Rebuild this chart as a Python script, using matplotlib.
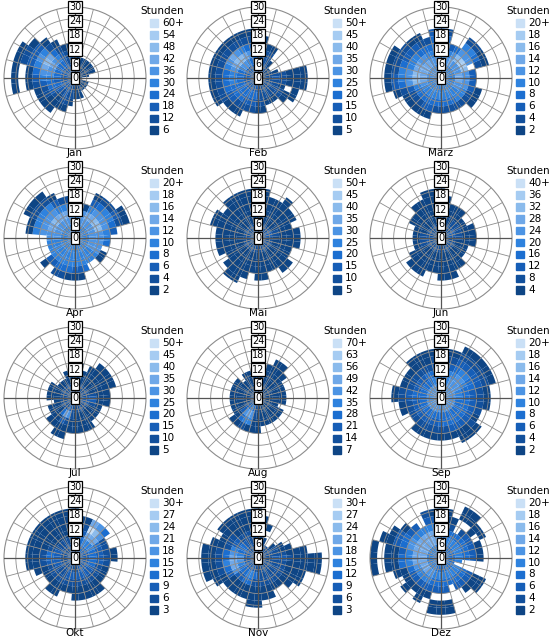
import numpy as np
import matplotlib
matplotlib.use('Agg')
import matplotlib.pyplot as plt
from matplotlib.patches import Rectangle

# Stundenzahl je Richtung (36 Sektoren à 10°, ab Nord im Uhrzeigersinn)
# und Geschwindigkeitsklasse (je Zeichen 3 Einheiten von innen nach außen).
# Zeichen = Farbstufe 1 (dunkel) .. A (=10, hell), '.' = leer
months = ['Jan', 'Feb', 'März', 'Apr', 'Mai', 'Jun',
          'Jul', 'Aug', 'Sep', 'Okt', 'Nov', 'Dez']
steps = [6, 5, 2, 2, 5, 4, 5, 7, 2, 3, 3, 2]

jan = ["1111", "1111", "111", "111", "111", "111", "111", "111", "11", "1",
       "1", "11", "11", "11", "11", "11", "111", "111", "121", "1221",
       "12221", "22321", "232111", "233211", "233321", "234421", "2334321.1", "2345531.1", "2346641.1", "234675321",
       "234786321", "23467531", "2345421", "233321", "12221", "12221"]
feb = ["122211", "122211", "12221", "12221", "121", "11", "11", "111", "1222111", "1232111",
       "1222111", "1221.1", "122211", "12221", "1221", "1221", "1221", "12221", "13321", "13432",
       "23432", "234321", "234421", "234431", "2344321", "2344421", "2345421", "2345421", "2345421", "2346521",
       "2357621", "2368721", "2368621", "2357521", "2346421", "2344321"]
mar = ["5565543", "5565542", "55653", "55764", "5568652", "5569652", "5569641", "5568.21", "55763", "55763",
       "55763", "556631", "556521", "555521", "55552", "55542", "55542", "45542", "45542", "45542",
       "455431", "455431", "455421", "455421", "455421", "4565321", "56786431", "56786531", "56786521", "56775421",
       "56775321", "5676532", "5676431", "5565421", "556542", "5565543"]
apr = ["556652", "55665", "55661", "5567531", "5567642", "5568652", "55686531", "55686421", "556653", "55665",
       "55664", "5566", "55661", "55551", "5555", "5555", "55554", "555531", "555531", "555541",
       "555542", "555542", "55553", "555531", "5555", "5555", "5555", "5566", "5566651", "5567651",
       "55676521", "55686521", "55676521", "5567531", "556752", "556652"]
mai = ["2211111", "2211111", "221111", "221111", "2211111", "221111", "231111", "23211", "232111", "221111",
       "221111", "22111", "22111", "221111", "221111", "22111", "22111", "221111", "221111", "22111",
       "221111", "2211111", "2211111", "221111", "22111", "221111", "221111", "221111", "221111", "2211111",
       "2211111", "221111", "2211111", "2211111", "2211111", "2211111"]
jun = ["1211111", "121111", "12111", "12111", "12211", "1221", "1321", "13211", "13211", "12211",
       "12111", "1211", "1211", "1211", "12111", "12111", "121111", "121111", "121111", "12111",
       "12111", "121111", "121111", "121111", "12111", "1221", "1321", "1321", "1221", "1211",
       "12111", "12111", "121111", "121111", "1211111", "1211111"]
jul = ["12111", "12111", "1211", "12111", "121111", "121111", "121111", "121111", "12211", "13311",
       "13311", "1321", "1211", "1211", "1211", "12111", "12111", "12111", "12111", "12211",
       "136211", "137311", "12411", "12111", "1211", "1211", "121", "1211", "1211", "1211",
       "1211", "121", "121", "121", "1211", "1211"]
aug = ["2111", "2111", "21111", "211111", "211111", "21111", "2111", "2111", "2111", "2111",
       "2111", "211", "2111", "2111", "2111", "2111", "2111", "2111", "22111", "22211",
       "24651", "25752", "24641", "23311", "2211", "2111", "2111", "2111", "2111", "2111",
       "2111", "2111", "211", "2111", "2111", "2111"]
sep = ["6654321", "6654321", "6655321", "66654321", "66665321", "66665321", "66654321", "66544321", "6654321", "6654321",
       "6644321", "664432", "664431", "6644321", "6644311", "6644311", "664431", "664421", "664421", "664321",
       "664321", "664321", "664321", "66432", "66432", "664321", "664321", "6644321", "6644321", "664321",
       "664321", "664321", "6643211", "6644211", "6654211", "6654321"]
okt = ["3321111", "332111", "334321", "3457A7", "345786", "345764", "33542", "33432", "334321", "334321",
       "33432", "33421", "33321", "33321", "333211", "333211", "333211", "323211", "323211", "32321",
       "32321", "322211", "322211", "32221", "32221", "323211", "3233211", "3234211", "3234211", "3232111",
       "3221111", "3221111", "3221111", "3221111", "3221111", "3221111"]
nov = ["2221111", "222111", "221.1", "22", "22", "221", "2221", "22211", "2222111", "223321111",
       "222211111", "2222111", "2222111", "222211", "22221", "22221", "222211", "222211", "2232111", "2242111",
       "235411", "235411", "234311", "234311", "2346311", "23574211", "23675211", "23674211", "23564211", "2345211",
       "234321", "2343211", "2232111", "2222111", "2222111", "2222111"]
dez = ["4566321", "4454211", "445421", "4454..11", "44542.11", "4454311", "44543.1", "445431", "445431", "445431",
       "445", "44", "4454311", "4454311", "445431", "44543", "4454", "44543.11", "44543.11", "44543.11",
       "445431", "4565311", "456531", "4575311", "457531", "4576411", "45775411.1", "45775411.1", "45775311.1", "457764311",
       "45776431", "4577531", "457753", "45775", "4577532", "4577531"]
roses = [jan, feb, mar, apr, mai, jun, jul, aug, sep, okt, nov, dez]

# Stufe 1 (dunkel) .. 10 (hell)
colours = ['#0e4585', '#12509c', '#165eb7', '#1b6ed0', '#2e82de',
           '#4c94e4', '#6fa8e8', '#8bbbec', '#a6ccf2', '#cae0f6']

W, H = 550, 640
R = 71
grey = '#8c8c8c'

fig = plt.figure(figsize=(W / 100, H / 100), dpi=100)

for i, (name, step, rose) in enumerate(zip(months, steps, roses)):
    x0 = [0, 183, 366][i % 3]
    y0 = 160 * (i // 3)
    cx, cy = x0 + 75, y0 + 78

    ax = fig.add_axes([(cx - R) / W, 1 - (cy + R) / H, 2 * R / W, 2 * R / H],
                      projection='polar')
    ax.set_theta_zero_location('N')
    ax.set_theta_direction(-1)
    ax.set_ylim(0, 30)
    ax.set_xticks([])
    ax.set_yticks([])
    ax.grid(False)
    ax.spines['polar'].set_color(grey)
    ax.spines['polar'].set_linewidth(0.8)

    th, bot, col = [], [], []
    for k, cells in enumerate(rose):
        for b, c in enumerate(cells):
            if c == '.':
                continue
            th.append(np.deg2rad(10 * k))
            bot.append(3 * b)
            col.append(colours[int(c, 16) - 1])
    ax.bar(th, 3, width=np.deg2rad(10), bottom=bot, color=col,
           linewidth=0, zorder=1)

    circ = np.linspace(0, 2 * np.pi, 361)
    for r in range(5, 30, 5):
        ax.plot(circ, np.full_like(circ, r), color=grey, lw=0.6, zorder=3)
    for a in range(0, 360, 15):
        main = a % 90 == 0
        ax.plot([np.deg2rad(a)] * 2, [0, 30], color='#555555' if main else grey,
                lw=0.9 if main else 0.6, zorder=3)

    for v in range(0, 31, 6):
        ax.text(0, v, str(v), ha='center', va='center', fontsize=7, zorder=5,
                clip_on=False,
                bbox=dict(boxstyle='square,pad=0.12', fc='white', ec='black', lw=0.9))

    fig.text(cx / W, 1 - (y0 + 153) / H, name, ha='center', va='center', fontsize=7.5)

    # Legende
    fig.text((x0 + 140) / W, 1 - (y0 + 11) / H, 'Stunden', va='center', fontsize=7.5)
    for j in range(10):
        lvl = 10 - j
        yc = y0 + 23 + 11.9 * j
        fig.patches.append(Rectangle(((x0 + 150) / W, 1 - (yc + 3.8) / H), 7.5 / W, 7.5 / H,
                                     transform=fig.transFigure, color=colours[lvl - 1]))
        label = f'{step * lvl}+' if j == 0 else str(step * lvl)
        fig.text((x0 + 162) / W, 1 - yc / H, label, va='center', fontsize=7.5)

fig.savefig('out.png', dpi=100)
